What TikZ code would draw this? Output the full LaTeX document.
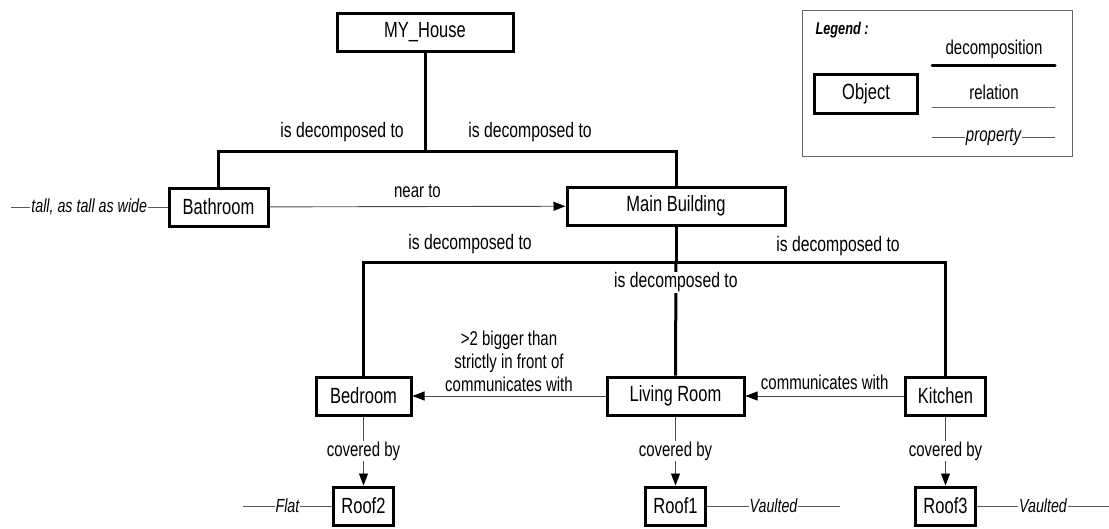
\documentclass[tikz,border=0pt]{standalone}
\usepackage{fontspec}
\setmainfont{Liberation Sans}[FakeStretch=0.75]
\usetikzlibrary{arrows.meta}

\begin{document}
\begin{tikzpicture}[x=1pt,y=-1pt,
  obj/.style={draw, line width=3pt, minimum height=38pt, inner sep=0pt,
              font=\fontsize{22}{24}\selectfont},
  decomp/.style={line width=3pt},
  rel/.style={draw=black!70, line width=0.9pt,
              -{Triangle[length=12pt,width=9pt,black]}},
  lbl/.style={font=\fontsize{20}{23}\selectfont, inner sep=1pt},
  dlbl/.style={font=\fontsize{21}{23}\selectfont, inner sep=1pt},
  prop/.style={draw=black!65, line width=0.9pt},
  proplbl/.style={font=\fontsize{19}{21}\selectfont\itshape, fill=white, inner sep=1pt}]

\useasboundingbox (0,0) rectangle (1109,528);

% objects
\node[obj, minimum width=176pt] (house)   at (425,32)    {MY\_House};
\node[obj, minimum width=99pt]  (bath)    at (218.5,207) {Bathroom};
\node[obj, minimum width=218pt] (main)    at (676,206)   {Main Building};
\node[obj, minimum width=95pt]  (bed)     at (363.5,396) {Bedroom};
\node[obj, minimum width=137pt] (living)  at (675.5,396) {Living Room};
\node[obj, minimum width=80pt]  (kitchen) at (945.5,396) {Kitchen};
\node[obj, minimum width=60pt]  (roof2)   at (363.5,506) {Roof2};
\node[obj, minimum width=60pt]  (roof1)   at (675.5,506) {Roof1};
\node[obj, minimum width=60pt]  (roof3)   at (945.5,506) {Roof3};

% decomposition of the house
\coordinate (j1) at (425,151);
\draw[decomp] (house.south) -- (j1);
\draw[decomp] (bath.north) -- (bath.north |- j1) -- (main.north |- j1) -- (main.north);
\node[dlbl] (d1) at (342,132) {is decomposed to};
\node[dlbl] (d2) at (530,132) {is decomposed to};

% decomposition of the main building
\coordinate (j2) at (676,262);
\draw[decomp] (main.south) -- (j2);
\draw[decomp] (bed.north) -- (bed.north |- j2) -- (kitchen.north |- j2) -- (kitchen.north);
\draw[decomp] (j2) -- node[dlbl, fill=white, pos=0.18] {is decomposed to} (living.north);
\node[dlbl] (d3) at (470,244) {is decomposed to};
\node[dlbl] (d4) at (838,246) {is decomposed to};

% relations
\draw[rel] (bath) -- node[lbl, above=7pt] {near to} (main);
\draw[rel] (living) -- node[lbl, above=3pt, align=center]
  {\textgreater2 bigger than\\strictly in front of\\communicates with} (bed);
\draw[rel] (kitchen) -- node[lbl, above=5pt] {communicates with} (living);
\draw[rel] (bed) -- node[lbl, fill=white] {covered by} (roof2);
\draw[rel] (living) -- node[lbl, fill=white] {covered by} (roof1);
\draw[rel] (kitchen) -- node[lbl, fill=white] {covered by} (roof3);

% properties
\coordinate (p1) at (11,207);
\coordinate (p2) at (243,506);
\coordinate (p3) at (840,506);
\coordinate (p4) at (1109,506);
\draw[prop] (p1) -- node[proplbl] {tall, as tall as wide} (bath.west);
\draw[prop] (p2) -- node[proplbl] {Flat} (roof2.west);
\draw[prop] (roof1.east) -- node[proplbl] {Vaulted} (p3);
\draw[prop] (roof3.east) -- node[proplbl] {Vaulted} (p4);

% legend
\draw[draw=black!60, line width=0.9pt] (802,10) rectangle (1072,156);
\node[font=\fontsize{17}{19}\selectfont\bfseries\itshape, anchor=west] (lg) at (812,30) {Legend :};
\node[obj, minimum width=103pt, minimum height=39pt] (lobj) at (866,94) {Object};
\node[lbl] (ldec) at (994,49) {decomposition};
\coordinate (la1) at (932,65);  \coordinate (lb1) at (1055,65);
\draw[decomp, line cap=round] (la1) -- (lb1);
\node[lbl] (lrel) at (994,92) {relation};
\coordinate (la2) at (932,107); \coordinate (lb2) at (1055,107);
\draw[draw=black!60, line width=0.8pt] (la2) -- (lb2);
\coordinate (la3) at (932,137); \coordinate (lb3) at (1055,137);
\draw[prop] (la3) -- node[proplbl, font=\fontsize{20}{22}\selectfont\itshape] {property} (lb3);
\end{tikzpicture}
\end{document}
